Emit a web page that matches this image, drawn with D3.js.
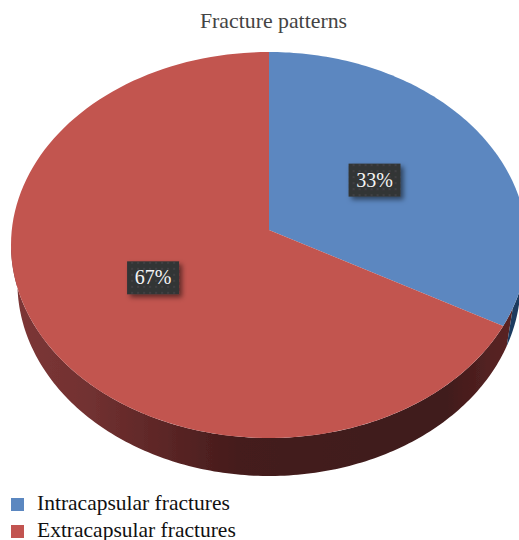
<!DOCTYPE html>
<html><head><meta charset="utf-8">
<script src="https://cdn.jsdelivr.net/npm/d3@7"></script>
<style>html,body{margin:0;padding:0;background:#fff}svg{display:block}text{font-family:"Liberation Serif",serif}</style>
</head><body><div id="c"></div>
<script>
const categories = ["Intracapsular fractures", "Extracapsular fractures"];
const values = [33, 67];
const labels = ["33%", "67%"];
const colors = ["#5b87c0", "#c25450"];
const title = "Fracture patterns";

const W = 519, H = 540;
const cx = 269, cy = 245, rx = 258, ry = 193, depth = 38, tilt = -0.0777;
const svg = d3.select("#c").append("svg").attr("width", W).attr("height", H);
const defs = svg.append("defs");

const wall = defs.append("linearGradient").attr("id", "wallRed").attr("gradientUnits", "userSpaceOnUse")
  .attr("x1", 11).attr("x2", 519).attr("y1", 0).attr("y2", 0);
[[0, "#7d3737"], [0.15, "#723131"], [0.3, "#5c2626"], [0.45, "#441b1b"], [0.85, "#3f1a1a"], [0.95, "#552222"], [1, "#5c2626"]]
  .forEach(([o, c]) => wall.append("stop").attr("offset", o).attr("stop-color", c));

const pat = defs.append("pattern").attr("id", "dots").attr("width", 6).attr("height", 6).attr("patternUnits", "userSpaceOnUse");
pat.append("rect").attr("width", 6).attr("height", 6).attr("fill", "#333436");
pat.append("circle").attr("cx", 3).attr("cy", 3).attr("r", 1).attr("fill", "#434446");

const sh = defs.append("filter").attr("id", "shadow").attr("x", "-30%").attr("y", "-30%").attr("width", "170%").attr("height", "170%");
sh.append("feDropShadow").attr("dx", 3).attr("dy", 3).attr("stdDeviation", 2.6).attr("flood-color", "#000").attr("flood-opacity", 0.5);
const soft = defs.append("filter").attr("id", "soft");
soft.append("feGaussianBlur").attr("stdDeviation", 0.4);

// Perspective map: a circle of unit radius onto the tilted ellipse.
function project(angle, r) {
  const x = r * Math.sin(angle), y = -r * Math.cos(angle);
  const d = 1 + tilt * y;
  return [cx + rx * x * Math.sqrt(1 - tilt * tilt) / d, cy + ry * (y + tilt) / d];
}

const arcs = d3.pie().value(d => d).sort(null)(values);

function rimPoints(a) {
  return d3.range(0, 121).map(i => project(a.startAngle + (a.endAngle - a.startAngle) * i / 120, 1));
}

const g = svg.append("g").attr("filter", "url(#soft)");

// Side wall
const bottomRx = rx * 0.975;
const wallPath = (a, b) => {
  const n = 160, pts = [], lo = [];
  for (let i = 0; i <= n; i++) {
    const t = a + (b - a) * i / n;
    pts.push([cx + rx * Math.cos(t), cy + ry * Math.sin(t)]);
    lo.unshift([cx + bottomRx * Math.cos(t), cy + depth + ry * Math.sin(t)]);
  }
  return d3.line()(pts.concat(lo)) + "Z";
};
const split = Math.atan2(project(arcs[0].endAngle, 1)[1] - cy, project(arcs[0].endAngle, 1)[0] - cx);
g.append("path").attr("d", wallPath(split, Math.PI)).attr("fill", "url(#wallRed)");
g.append("path").attr("d", wallPath(-0.02, split)).attr("fill", "#1b3a5e");

// Top face
g.selectAll("path.slice").data(arcs).join("path").attr("class", "slice")
  .attr("d", a => d3.line()([project(0, 0), ...rimPoints(a)]) + "Z")
  .attr("fill", (d, i) => colors[i]);

// Data labels
const lw = 52, lh = 33;
const lab = svg.selectAll("g.lab").data(arcs).join("g").attr("class", "lab")
  .attr("transform", a => {
    const p = project((a.startAngle + a.endAngle) / 2, 0.5);
    return `translate(${p[0] - 3},${p[1] - 2})`;
  });
lab.append("rect").attr("x", -lw / 2).attr("y", -lh / 2).attr("width", lw).attr("height", lh)
  .attr("fill", "url(#dots)").attr("filter", "url(#shadow)");
lab.append("text").attr("text-anchor", "middle").attr("y", 6.5).attr("font-size", 20).attr("fill", "#f4f4f4")
  .text((d, i) => labels[i]);

// Title
svg.append("text").attr("x", 273.5).attr("y", 28).attr("text-anchor", "middle")
  .attr("font-size", 21.8).attr("fill", "#444").text(title);

// Legend
const y0 = d3.scalePoint().domain(categories).range([498, 525]);
const leg = svg.selectAll("g.leg").data(categories).join("g").attr("class", "leg")
  .attr("transform", d => `translate(11,${y0(d)})`);
leg.append("rect").attr("width", 13).attr("height", 13).attr("fill", (d, i) => colors[i]);
leg.append("text").attr("x", 26).attr("y", 11.5).attr("font-size", 21.5).attr("fill", "#111").text(d => d);
</script></body></html>
